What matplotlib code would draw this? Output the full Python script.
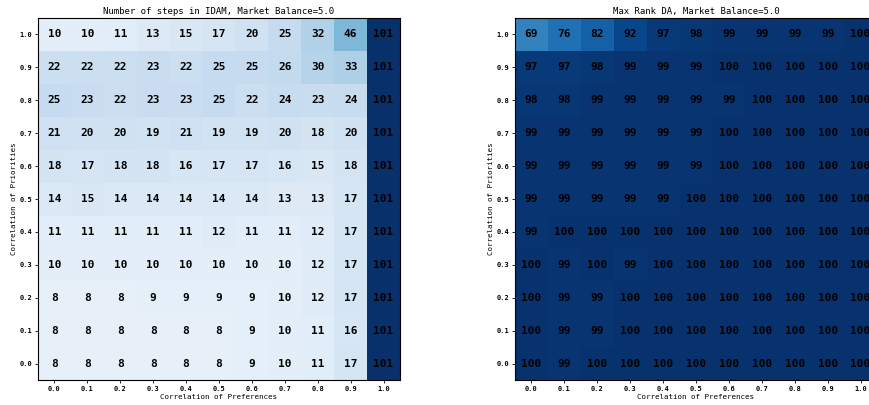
import numpy as np
import matplotlib
matplotlib.use("Agg")
import matplotlib.pyplot as plt

pref_labels = ["0.0", "0.1", "0.2", "0.3", "0.4", "0.5", "0.6", "0.7", "0.8", "0.9", "1.0"]
prio_labels = ["0.0", "0.1", "0.2", "0.3", "0.4", "0.5", "0.6", "0.7", "0.8", "0.9", "1.0"]

# rows ordered from priority 0.0 (bottom) to 1.0 (top)
steps_idam = [
    [8, 8, 8, 8, 8, 8, 9, 10, 11, 17, 101],
    [8, 8, 8, 8, 8, 8, 9, 10, 11, 16, 101],
    [8, 8, 8, 9, 9, 9, 9, 10, 12, 17, 101],
    [10, 10, 10, 10, 10, 10, 10, 10, 12, 17, 101],
    [11, 11, 11, 11, 11, 12, 11, 11, 12, 17, 101],
    [14, 15, 14, 14, 14, 14, 14, 13, 13, 17, 101],
    [18, 17, 18, 18, 16, 17, 17, 16, 15, 18, 101],
    [21, 20, 20, 19, 21, 19, 19, 20, 18, 20, 101],
    [25, 23, 22, 23, 23, 25, 22, 24, 23, 24, 101],
    [22, 22, 22, 23, 22, 25, 25, 26, 30, 33, 101],
    [10, 10, 11, 13, 15, 17, 20, 25, 32, 46, 101],
]

max_rank_da = [
    [100, 99, 100, 100, 100, 100, 100, 100, 100, 100, 100],
    [100, 99, 99, 100, 100, 100, 100, 100, 100, 100, 100],
    [100, 99, 99, 100, 100, 100, 100, 100, 100, 100, 100],
    [100, 99, 100, 99, 100, 100, 100, 100, 100, 100, 100],
    [99, 100, 100, 100, 100, 100, 100, 100, 100, 100, 100],
    [99, 99, 99, 99, 99, 100, 100, 100, 100, 100, 100],
    [99, 99, 99, 99, 99, 99, 100, 100, 100, 100, 100],
    [99, 99, 99, 99, 99, 99, 100, 100, 100, 100, 100],
    [98, 98, 99, 99, 99, 99, 99, 100, 100, 100, 100],
    [97, 97, 98, 99, 99, 99, 100, 100, 100, 100, 100],
    [69, 76, 82, 92, 97, 98, 99, 99, 99, 99, 100],
]

titles = ["Number of steps in IDAM, Market Balance=5.0", "Max Rank DA, Market Balance=5.0"]

plt.rcParams["font.family"] = ["DejaVu Sans Mono"]

W, H = 870, 405
fig = plt.figure(figsize=(W / 100, H / 100), dpi=100)
ax_w, ax_h = 362 / W, 362 / H
bottom = (H - 380) / H
lefts = [38 / W, 515 / W]

for data, title, left in zip([steps_idam, max_rank_da], titles, lefts):
    arr = np.array(data)
    ax = fig.add_axes([left, bottom, ax_w, ax_h])
    ax.imshow(arr, cmap="Blues", vmin=0, vmax=101, origin="lower", aspect="auto")
    for i in range(arr.shape[0]):
        for j in range(arr.shape[1]):
            ax.text(j, i, str(arr[i, j]), ha="center", va="center",
                    fontsize=8, fontweight="bold", color="black")
    ax.set_xticks(range(len(pref_labels)))
    ax.set_xticklabels(pref_labels, fontsize=5, fontweight="bold")
    ax.set_yticks(range(len(prio_labels)))
    ax.set_yticklabels(prio_labels, fontsize=5, fontweight="bold")
    ax.tick_params(length=2, width=0.6, pad=2)
    ax.set_xlabel("Correlation of Preferences", fontsize=5.4, labelpad=2)
    ax.set_ylabel("Correlation of Priorities", fontsize=5.4, labelpad=2)
    ax.set_title(title, fontsize=6.5, pad=3)

fig.savefig("out.png", dpi=100)
